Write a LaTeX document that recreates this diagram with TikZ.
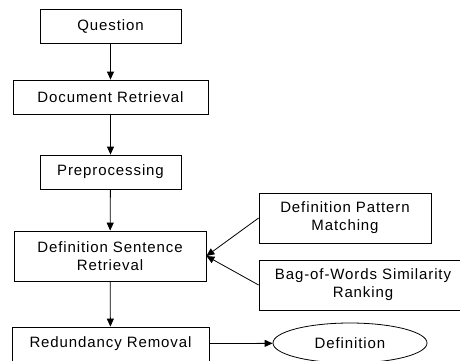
\documentclass[tikz,border=0pt]{standalone}
\usepackage{fontspec}
\setmainfont{Liberation Sans}[LetterSpace=6]
\usetikzlibrary{arrows.meta,shapes.geometric}
\begin{document}
\begin{tikzpicture}[x=1pt,y=-1pt,
        caja/.style={draw,line width=0.8pt,inner sep=0pt,align=center,minimum height=34pt,
            font=\fontsize{15}{18}\selectfont},
        flecha/.style={-{Triangle[length=8pt,width=7pt]},line width=0.8pt}]
        %marco
        \useasboundingbox (0,0) rectangle (460,360);

        % cajas de la izquierda
        \node[caja,minimum width=141pt] (q) at (110.5,26) {Question};
        \node[caja,minimum width=195pt] (doc) at (110.5,97) {Document Retrieval};
        \node[caja,minimum width=141pt] (pre) at (110.5,172) {Preprocessing};
        \node[caja,minimum width=192pt,minimum height=50pt] (dsr) at (110,256) {Definition Sentence\\Retrieval};
        \node[caja,minimum width=197pt] (red) at (110.5,344) {Redundancy Removal};

        % cajas de la derecha
        \node[caja,minimum width=172pt,minimum height=50pt] (dpm) at (345,218) {Definition Pattern\\Matching};
        \node[caja,minimum width=208pt,minimum height=50pt] (bow) at (363,285) {Bag-of-Words Similarity\\Ranking};
        \node[caja,ellipse,minimum width=154pt,minimum height=40pt] (def) at (350,343) {Definition};

        % flechas
        \foreach \a/\b in {q/doc, doc/pre, pre/dsr, dsr/red}
            \draw[flecha] (\a) -- (\b);
        \draw[flecha] (dpm.west) -- (dsr.east);
        \draw[flecha] (bow.west) -- (dsr.east);
        \draw[flecha] (red) -- (def);
    \end{tikzpicture}
\end{document}
